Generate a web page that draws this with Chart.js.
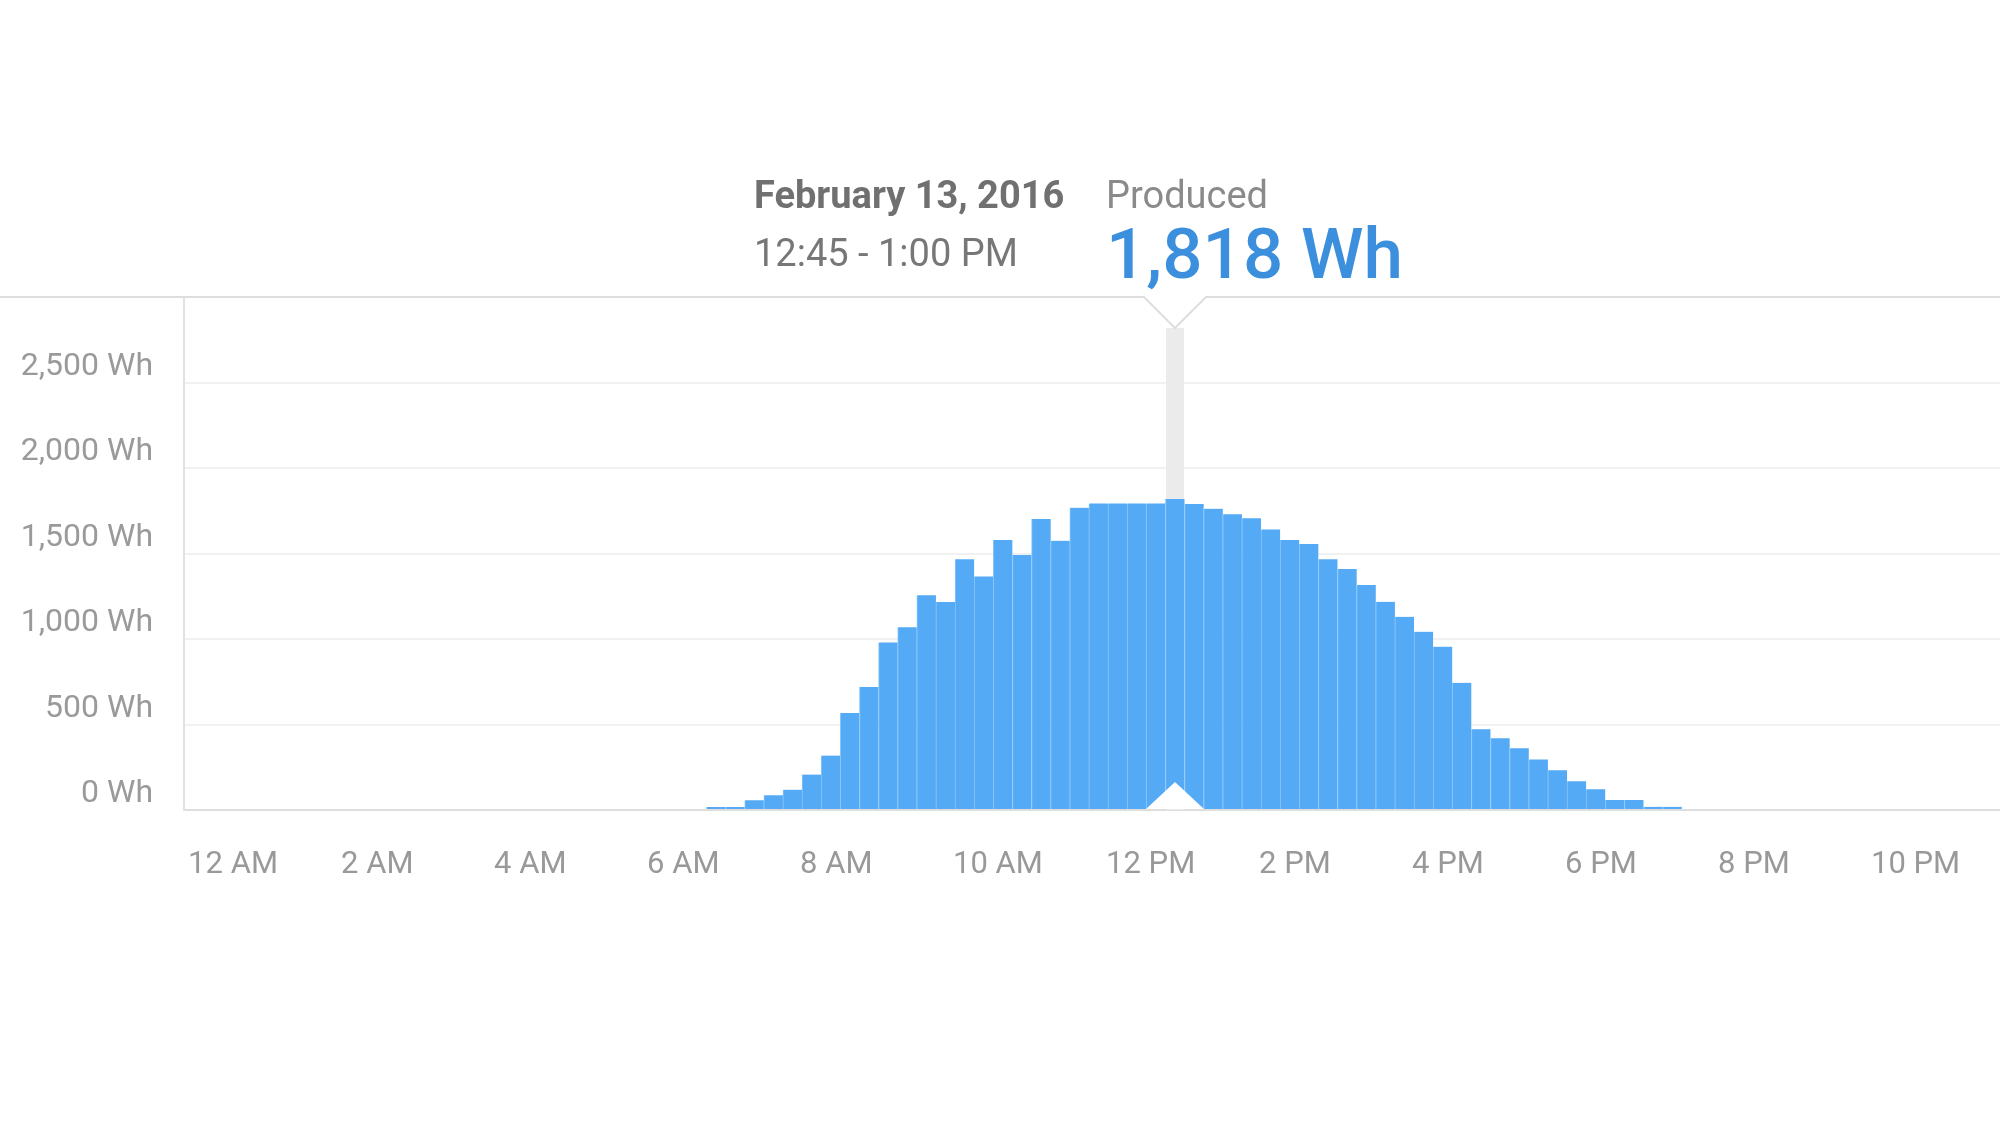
<!DOCTYPE html>
<html>
<head>
<meta charset="utf-8">
<title>Produced - February 13, 2016</title>
<script src="https://cdn.jsdelivr.net/npm/chart.js@4.4.1/dist/chart.umd.min.js"></script>
<style>
  html, body { margin: 0; padding: 0; background: #fff; overflow: hidden; }
  #wrap { position: relative; width: 2000px; height: 1125px; font-family: Roboto, 'Noto Sans', sans-serif; }
  #wrap canvas { position: absolute; left: 0; top: 0; }
  .info { position: absolute; line-height: 1; white-space: nowrap; }
  #fecha { left: 754px; top: 176px; font-size: 38px; font-weight: 700; color: #707070; }
  #rango { left: 754px; top: 234px; font-size: 38px; color: #777; }
  #etiqueta { left: 1106px; top: 176px; font-size: 38px; color: #8a8a8a; }
  #valor { left: 1106px; top: 218px; font-size: 71px; font-weight: 500; color: #3b8fdc; }
</style>
</head>
<body>
<div id="wrap">
  <canvas id="produccionChart" width="2000" height="1125"></canvas>
  <div class="info" id="fecha">February 13, 2016</div>
  <div class="info" id="rango">12:45 - 1:00 PM</div>
  <div class="info" id="etiqueta">Produced</div>
  <div class="info" id="valor">1,818 Wh</div>
</div>
<script>
const slotsPorHora = 4;

// Wh producidos en cada intervalo de 15 minutos, desde las 12:00 AM
const produccion = [
  0, 0, 0, 0,   0, 0, 0, 0,   0, 0, 0, 0,   0, 0, 0, 0,   0, 0, 0, 0,   0, 0, 0, 0,
  // 6 AM
  0, 0, 0, 18,
  // 7 AM
  18, 57, 86, 119,
  // 8 AM
  207, 318, 567, 719,
  // 9 AM
  980, 1068, 1256, 1217,
  // 10 AM
  1467, 1366, 1579, 1491,
  // 11 AM
  1702, 1575, 1768, 1793,
  // 12 PM
  1793, 1793, 1793, 1818,
  // 1 PM
  1790, 1762, 1730, 1706,
  // 2 PM
  1641, 1579, 1555, 1466,
  // 3 PM
  1409, 1316, 1218, 1130,
  // 4 PM
  1043, 955, 744, 472,
  // 5 PM
  419, 361, 296, 232,
  // 6 PM
  168, 121, 58, 58,
  // 7 PM
  19, 19, 0, 0,
  // 8 PM - 11 PM
  0, 0, 0, 0,   0, 0, 0, 0,   0, 0, 0, 0,   0, 0, 0, 0
];

const horasEje = [0, 2, 4, 6, 8, 10, 12, 14, 16, 18, 20, 22];
const etiquetasEje = ['12 AM', '2 AM', '4 AM', '6 AM', '8 AM', '10 AM', '12 PM', '2 PM', '4 PM', '6 PM', '8 PM', '10 PM'];
const valoresEjeY = [0, 500, 1000, 1500, 2000, 2500];
const etiquetasEjeY = ['0 Wh', '500 Wh', '1,000 Wh', '1,500 Wh', '2,000 Wh', '2,500 Wh'];

// 12:45 - 1:00 PM
const intervaloSeleccionado = 51;

const ctx = document.getElementById('produccionChart').getContext('2d');
Chart.defaults.font.family = 'Roboto';

const puntos = produccion.map((wh, i) => ({ x: (i + 0.5) / slotsPorHora, y: wh }));

// barra gris del indicador, triangulos y linea superior
const indicador = {
    id: 'indicador',
    beforeDatasetsDraw(chart) {
        const c = chart.ctx;
        const x = chart.scales.x.getPixelForValue((intervaloSeleccionado + 0.5) / slotsPorHora);
        const top = chart.chartArea.top;
        c.save();
        c.fillStyle = '#ebebeb';
        c.fillRect(x - 9, top + 31, 18, chart.chartArea.bottom - top - 31);
        c.restore();
    },
    afterDraw(chart) {
        const c = chart.ctx;
        const x = chart.scales.x.getPixelForValue((intervaloSeleccionado + 0.5) / slotsPorHora);
        const top = chart.chartArea.top;
        const bottom = chart.chartArea.bottom;
        c.save();
        // triangulo blanco abajo
        c.fillStyle = '#fff';
        c.beginPath();
        c.moveTo(x - 29, bottom - 1);
        c.lineTo(x, bottom - 28);
        c.lineTo(x + 29, bottom - 1);
        c.closePath();
        c.fill();
        // linea superior con la muesca
        c.beginPath();
        c.moveTo(x - 31, top);
        c.lineTo(x, top + 31);
        c.lineTo(x + 31, top);
        c.closePath();
        c.fill();
        c.strokeStyle = '#dedede';
        c.lineWidth = 2;
        c.beginPath();
        c.moveTo(0, top);
        c.lineTo(x - 31, top);
        c.lineTo(x, top + 31);
        c.lineTo(x + 31, top);
        c.lineTo(chart.width, top);
        c.stroke();
        c.restore();
    }
};

const myChart = new Chart(ctx, {
    type: 'bar',
    data: {
        datasets: [{
            label: 'Produced',
            data: puntos,
            backgroundColor: '#55aaf5',
            borderColor: '#86c6fb',
            borderWidth: { left: 1, right: 0, top: 0, bottom: 0 },
            barPercentage: 1,
            categoryPercentage: 1
        }]
    },
    options: {
        responsive: false,
        animation: false,
        events: [],
        layout: { padding: { top: 297, left: 0, right: 0, bottom: 0 } },
        plugins: {
            legend: { display: false },
            tooltip: { enabled: false }
        },
        scales: {
            x: {
                type: 'linear',
                offset: false,
                min: -0.08,
                max: 23.66,
                afterBuildTicks: (scale) => { scale.ticks = horasEje.map(v => ({ value: v })); },
                afterFit: (scale) => { scale.height = 315; },
                grid: { display: false, drawTicks: false },
                border: { display: true, color: '#dedede', width: 2 },
                ticks: {
                    align: 'start',
                    autoSkip: false,
                    maxRotation: 0,
                    padding: 37,
                    labelOffset: -2,
                    color: '#999',
                    font: { size: 31 },
                    callback: (v, i) => etiquetasEje[i]
                }
            },
            y: {
                min: 0,
                max: 3000,
                afterBuildTicks: (scale) => { scale.ticks = valoresEjeY.map(v => ({ value: v })); },
                afterFit: (scale) => { scale.width = 184; },
                grid: { color: '#f1f1f1', lineWidth: 2, drawTicks: false },
                border: { display: true, color: '#e2e2e2', width: 2 },
                ticks: {
                    padding: 31,
                    labelOffset: -16,
                    color: '#9a9a9a',
                    font: { size: 32 },
                    callback: (v, i) => etiquetasEjeY[i]
                }
            }
        }
    },
    plugins: [indicador]
});
</script>
</body>
</html>
